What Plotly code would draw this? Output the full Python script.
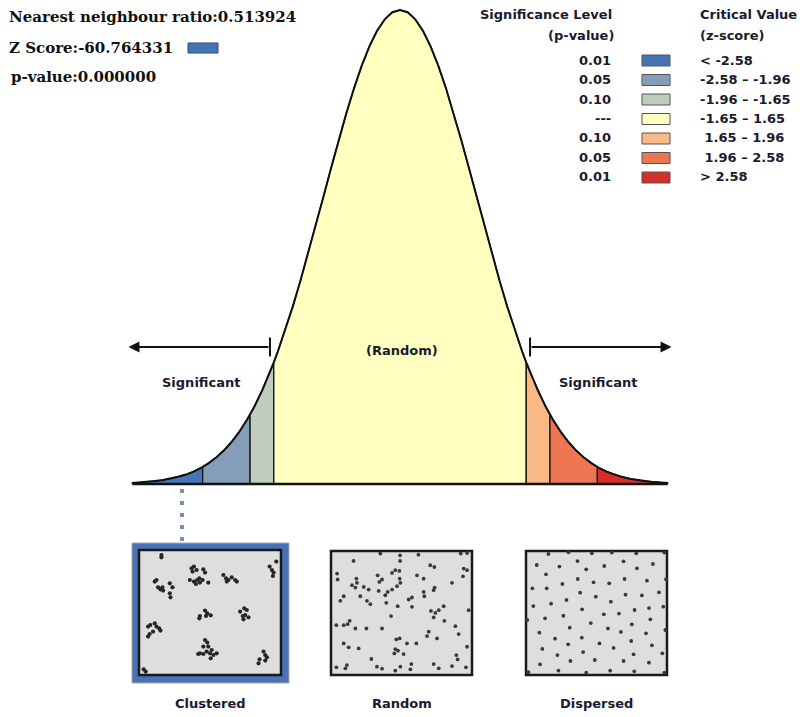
import plotly.graph_objects as go

# --- data ---
# standard normal curve heights (z >= 0 half, mirrored below)
z_half = [0.0, 0.1, 0.2, 0.3, 0.4, 0.5, 0.6, 0.7, 0.8, 0.9, 1.0, 1.1, 1.2, 1.3, 1.4,
          1.5, 1.6, 1.65, 1.7, 1.8, 1.9, 1.96, 2.0, 2.1, 2.2, 2.3, 2.4, 2.5, 2.58, 2.6,
          2.7, 2.8, 2.9, 3.0, 3.1, 3.2, 3.3, 3.4, 3.5]
pdf_half = [0.3989, 0.3970, 0.3910, 0.3814, 0.3683, 0.3521, 0.3332, 0.3123, 0.2897,
            0.2661, 0.2420, 0.2179, 0.1942, 0.1714, 0.1497, 0.1295, 0.1109, 0.1023,
            0.0940, 0.0790, 0.0656, 0.0584, 0.0540, 0.0440, 0.0355, 0.0283, 0.0224,
            0.0175, 0.0143, 0.0136, 0.0104, 0.0079, 0.0060, 0.0044, 0.0033, 0.0024,
            0.0017, 0.0012, 0.0009]

breaks = [-3.5, -2.58, -1.96, -1.65, 1.65, 1.96, 2.58, 3.5]
region_colors = ["#4575b5", "#849eba", "#c0ccbe", "#ffffbf", "#fab984", "#ed7551", "#d62f27"]

p_levels = ["0.01", "0.05", "0.10", "---", "0.10", "0.05", "0.01"]
z_ranges = ["< -2.58", "-2.58 – -1.96", "-1.96 – -1.65", "-1.65 – 1.65",
            "\u00a01.65 – 1.96", "\u00a01.96 – 2.58", "> 2.58"]

nn_ratio = "0.513924"
z_score = "-60.764331"
p_value = "0.000000"

arrow_level = 0.1153   # height of the "Significant" arrows
cap_z = 1.70           # where the arrows start

# point patterns (0-100 inside each box, y from top)
clustered_x = [15.8, 15.8, 37, 38.7, 40.6, 37.7, 45.3, 46.5, 35.8, 38.7, 41, 42.9, 42.5, 44.8,
               48.8, 40.1, 59.4, 61.3, 63, 65.3, 67.7, 68.9, 61.8, 96.7, 92, 93.6, 94.8, 94.3,
               11.1, 13.4, 15.1, 16.5, 17, 21.7, 23.6, 21.7, 22.2, 12.3, 42.5, 42.9, 46.5, 47.2,
               50.5, 48.1, 71.2, 74.1, 75.9, 74.8, 77.1, 73.6, 73.1, 6.4, 8, 11.1, 12.3, 14.2,
               9.9, 7.5, 6.4, 15.1, 46.5, 48.1, 45.3, 48.8, 51.2, 42.9, 41.7, 45.3, 50, 52.4,
               54.7, 50.5, 47.6, 87.7, 88.9, 84.9, 84.2, 90.1, 88.9, 3.3, 4.7]
clustered_y = [4, 5.9, 14.7, 13.3, 16, 17.3, 15.5, 18.1, 24, 25.3, 24, 26.1, 22.7, 24,
               26.1, 27.2, 20, 22.7, 24, 21.9, 24, 25.3, 25.3, 9.3, 13.3, 16, 18.1, 20.8,
               25.3, 29.9, 31.5, 29.9, 32.5, 26.7, 29.9, 34.7, 37.9, 24, 54.7, 52.8, 48.5, 52.8,
               52.3, 50.7, 49.3, 46.7, 48, 52, 53.9, 55.5, 52.8, 61.3, 60, 58.7, 61.3, 62.7,
               65.3, 67.2, 69.3, 64.5, 72, 74.1, 77.3, 77.3, 80, 82.7, 83.2, 83.2, 82.7, 84,
               82.7, 86.7, 81.3, 81.3, 84, 87.5, 90.7, 85.9, 88.5, 95.5, 97.3]

random_x = [16, 35, 49, 62, 49, 92, 96.5, 4.3, 4.7, 18, 18.4, 14.9, 17.3, 23.2, 26.7, 33.1,
            36.2, 34.3, 43.3, 45.6, 48.5, 48.7, 49.2, 46.8, 43.3, 33.8, 38.5, 40.2, 61, 65.7,
            70.4, 73.3, 85.8, 94.1, 96.5, 93.6, 9, 6.6, 20.8, 25.5, 27.9, 55.1, 57.4, 65.7,
            66.2, 72.8, 73.5, 39.2, 47.3, 57.4, 70.9, 74, 76.4, 79.9, 72.8, 97.6, 42.6, 3.8,
            9, 11.8, 13.2, 17.3, 25.1, 36.2, 80.4, 88.2, 69.3, 68.1, 75.2, 90.5, 46.3, 48.7,
            53.9, 60.5, 9, 12.5, 19.6, 96.5, 45.6, 47.5, 44.9, 51.5, 88.9, 89.8, 28.6, 3.8,
            11.3, 10.2, 32.6, 36.2, 45.6, 49.2, 57, 56.3, 72.8, 76.4, 85.8, 95.7]
random_y = [8, 2, 3.5, 3, 8, 2, 1.6, 18.2, 23, 22.3, 25.7, 27.6, 29.5, 29, 31.1, 19.6,
            23, 24.9, 17.7, 15.5, 16.1, 22.3, 25.7, 28.4, 31.1, 32.2, 35.7, 33, 19.6, 22.3,
            11.5, 12.9, 25.7, 14.2, 15.5, 20.4, 36.5, 40.2, 36.5, 40.2, 42.9, 39.1, 37.5, 33,
            36.5, 31.6, 29.5, 41.8, 44.5, 45, 48.3, 49.9, 47.7, 44.5, 53.6, 47.7, 52.5, 59.8,
            59.8, 59, 56.3, 62.5, 62.5, 62.5, 56.3, 60.6, 65.1, 68.6, 70.5, 67, 71.3, 70.5,
            74.5, 74.5, 74.5, 77.7, 78.6, 77.2, 79.1, 80.4, 82.6, 83.1, 83.9, 87.4, 87.1, 93.8,
            92, 94.6, 93.3, 94.9, 96.5, 93.3, 91.2, 95.4, 91.2, 94.6, 92.8, 93.8]

dispersed_x = [15.9, 30.1, 46.7, 60.9, 78.2, 98.1, 7.6, 23.7, 36.5, 42.7, 55.5, 69.2, 78.7, 90,
               14.2, 25.8, 36.7, 47.9, 59, 69.9, 85.8, 99.3, 4.5, 14.7, 38.4, 49.5, 70.6, 82.2,
               94.3, 5.2, 17.8, 28.7, 39.8, 60.2, 55.2, 65.9, 77, 87.2, 97.4, 0.9, 13.5, 26.5,
               46, 58.1, 75.1, 88.2, 9.5, 31, 20.6, 39.6, 52.1, 67.3, 74.6, 85.1, 98.8, 11.6,
               29.9, 40.5, 62.1, 89.3, 96.7, 22.3, 10, 31.5, 48.8, 69.2, 76.3, 87.2, 1.7, 23,
               42.7, 59.7, 76.8, 98.1]
dispersed_y = [2.4, 1.1, 1.9, 1.3, 1.9, 1.3, 11.3, 12.6, 8.1, 14.8, 12.1, 8.3, 14, 10.5,
               18.8, 26.6, 22.6, 25.3, 26.1, 22.6, 23.9, 22.8, 30.1, 30.1, 33.6, 36.8, 35.2, 35.8,
               33.3, 44.4, 42.5, 39.5, 47, 40.9, 51.1, 50.5, 47.6, 46, 44.9, 55.6, 54.3, 52.2,
               58.1, 62.4, 59.1, 55.1, 65.9, 61.8, 70.7, 69.9, 74.5, 65.3, 72.6, 66.4, 63.7, 79,
               75.3, 81.5, 78.2, 76.1, 82.5, 83.9, 91.4, 88.7, 87.9, 88.7, 83.3, 90.1, 97.8, 96.5,
               98.1, 96.5, 97, 98.1]

pattern_names = ["Clustered", "Random", "Dispersed"]

# --- layout helpers (window pixel -> paper); the page body adds an 8px margin ---
OFF = 8
W, H = 809 - OFF, 717 - OFF


def px(x):
    return (x - OFF) / W


def py(y):
    return min(1.0, max(0.0, 1 - (y - OFF) / H))


TXT = "#1a1a30"
SANS = "DejaVu Sans"

z_full = [-z for z in reversed(z_half[1:])] + z_half
pdf_full = list(reversed(pdf_half[1:])) + pdf_half

fig = go.Figure()

# coloured regions under the curve
for i, col in enumerate(region_colors):
    lo, hi = breaks[i], breaks[i + 1]
    xs = [lo] + [z for z in z_full if lo <= z <= hi] + [hi]
    ys = [0] + [p for z, p in zip(z_full, pdf_full) if lo <= z <= hi] + [0]
    fig.add_trace(go.Scatter(x=xs, y=ys, fill="toself", fillcolor=col, mode="lines",
                             line=dict(color="#111", width=1.3), hoverinfo="skip"))

# curve outline and baseline
fig.add_trace(go.Scatter(x=z_full, y=pdf_full, mode="lines",
                         line=dict(color="#111", width=2), hoverinfo="skip"))
fig.add_trace(go.Scatter(x=[z_full[0], z_full[-1]], y=[0, 0], mode="lines",
                         line=dict(color="#111", width=2.5), hoverinfo="skip"))

# point patterns
patterns = [(clustered_x, clustered_y, "#262626", 4.2),
            (random_x, random_y, "#3a3a3a", 3.8),
            (dispersed_x, dispersed_y, "#3a3a3a", 3.8)]
for k, (xs, ys, col, size) in enumerate(patterns):
    fig.add_trace(go.Scatter(x=xs, y=ys, mode="markers", xaxis=f"x{k + 2}", yaxis=f"y{k + 2}",
                             marker=dict(color=col, size=size), cliponaxis=False,
                             hoverinfo="skip"))

box_px = [(139, 281, 550, 675), (331, 472, 551, 675), (526, 667, 551, 675)]

# bell curve: 76.5 px per z unit, 1188.3 px per density unit, baseline at y=484
axes = dict(
    xaxis=dict(domain=[px(124.6), px(675.4)], range=[-3.6, 3.6], visible=False),
    yaxis=dict(domain=[py(489.9), py(8.1)], range=[-0.005, 0.4005], visible=False),
)
for k, (x0, x1, y0, y1) in enumerate(box_px):
    n = k + 2
    axes[f"xaxis{n}"] = dict(domain=[px(x0), px(x1)], range=[0, 100], visible=False,
                             anchor=f"y{n}")
    axes[f"yaxis{n}"] = dict(domain=[py(y1), py(y0)], range=[100, 0], visible=False,
                             anchor=f"x{n}")

shapes = []
# blue frame around the clustered box
shapes.append(dict(type="rect", xref="paper", yref="paper", x0=px(132), x1=px(289),
                   y0=py(683), y1=py(543), fillcolor="#4a72b8",
                   line=dict(color="#a8a8a8", width=1), layer="below"))
for k in range(3):
    n = k + 2
    shapes.append(dict(type="rect", xref=f"x{n} domain", yref=f"y{n} domain",
                       x0=0, x1=1, y0=0, y1=1, fillcolor="#dedede",
                       line=dict(color="#1a1a1a", width=2.5), layer="below"))

# dotted connector from the curve to the clustered box
shapes.append(dict(type="line", xref="paper", yref="paper", x0=px(182), x1=px(182),
                   y0=py(489), y1=py(541), line=dict(color="#7390c0", width=4, dash="4px,8px")))

# end caps of the "Significant" arrows
for sgn in (-1, 1):
    shapes.append(dict(type="line", xref="x", yref="y", x0=sgn * cap_z, x1=sgn * cap_z,
                       y0=arrow_level - 0.008, y1=arrow_level + 0.008,
                       line=dict(color="#111", width=2)))

# z-score swatch
shapes.append(dict(type="rect", xref="paper", yref="paper", x0=px(188), x1=px(218),
                   y0=py(53), y1=py(43), fillcolor=region_colors[0],
                   line=dict(color="#2d4a7a", width=1)))

annotations = []
for sgn in (-1, 1):
    annotations.append(dict(x=sgn * 3.55, y=arrow_level, ax=sgn * cap_z, ay=arrow_level,
                            xref="x", yref="y", axref="x", ayref="y", text="",
                            showarrow=True, arrowhead=2, arrowsize=1.1, arrowwidth=2,
                            arrowcolor="#111"))


def label(x, y, text, size=13, anchor="center", color=TXT, family=SANS):
    annotations.append(dict(x=px(x), y=py(y), xref="paper", yref="paper", text=text,
                            showarrow=False, xanchor=anchor, yanchor="middle",
                            font=dict(family=family, size=size, color=color)))


label(201, 383, "<b>Significant</b>")
label(598, 383, "<b>Significant</b>")
label(402, 350, "<b>(Random)</b>")

# top-left statistics
SERIF = "DejaVu Serif"
label(7, 17, f"<b>Nearest neighbour ratio:{nn_ratio}</b>", 15, "left", "#111", SERIF)
label(7, 48, f"<b>Z Score:{z_score}</b>", 15, "left", "#111", SERIF)
label(9, 77, f"<b>p-value:{p_value}</b>", 15, "left", "#111", SERIF)

# legend
label(614, 15, "<b>Significance Level</b>", 13, "right")
label(616, 35, "<b>(p-value)</b>", 13, "right")
label(698, 15, "<b>Critical Value</b>", 13, "left")
label(698, 35, "<b>(z-score)</b>", 13, "left")
for i, (p, zr, col) in enumerate(zip(p_levels, z_ranges, region_colors)):
    yy = 60 + i * 19.5
    label(613, yy, f"<b>{p}</b>", 13, "right")
    label(698, yy, f"<b>{zr}</b>", 13, "left")
    shapes.append(dict(type="rect", xref="paper", yref="paper", x0=px(642), x1=px(670),
                       y0=py(yy + 6), y1=py(yy - 5), fillcolor=col,
                       line=dict(color="#555", width=1)))

# pattern names under the boxes
for name, (x0, x1, y0, y1) in zip(pattern_names, box_px):
    label((x0 + x1) / 2, 703, f"<b>{name}</b>", 13)

fig.update_layout(
    width=W, height=H,
    margin=dict(l=0, r=0, t=0, b=0),
    paper_bgcolor="white", plot_bgcolor="white",
    showlegend=False,
    shapes=shapes, annotations=annotations,
    **axes,
)

fig.write_html("out.html")
